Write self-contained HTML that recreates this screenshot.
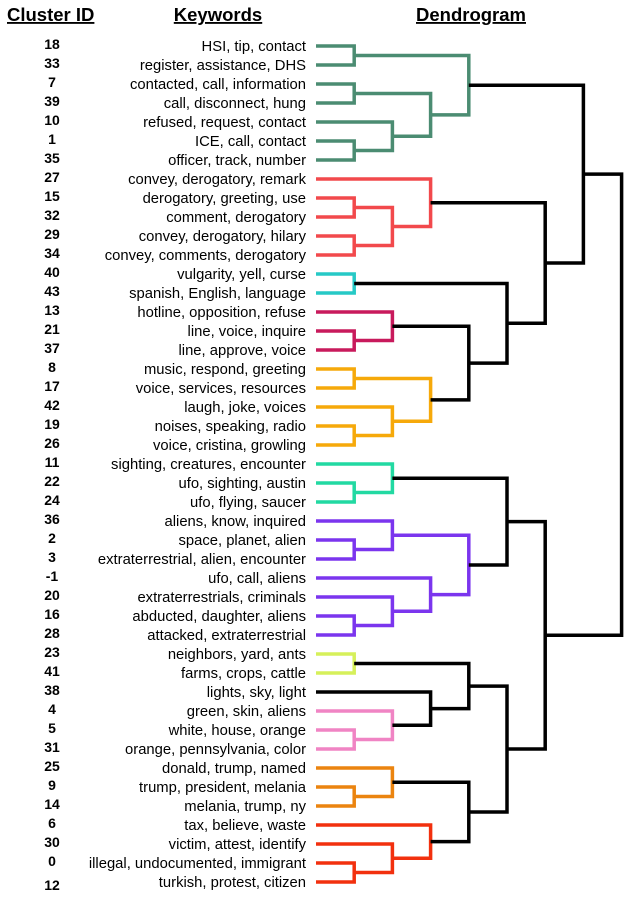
<!DOCTYPE html>
<html><head><meta charset="utf-8">
<style>
html,body{margin:0;padding:0;background:#fff;}
body{width:634px;height:900px;overflow:hidden;position:relative;font-family:"Liberation Sans",Arial,sans-serif;}
svg{position:absolute;left:0;top:0;}
.hdr{font-weight:bold;font-size:18.5px;text-decoration:underline;}
.id{font-weight:bold;font-size:14px;}
.kw{font-size:14.8px;}
</style></head>
<body>
<svg id="chart" width="634" height="900">
<text class="hdr" x="7" y="21">Cluster ID</text>
<text class="hdr" x="218" y="21" text-anchor="middle">Keywords</text>
<text class="hdr" x="471" y="21" text-anchor="middle">Dendrogram</text>
<g id="labels"></g>
<g id="links"></g>
</svg>
<script>
const clusterIds=["18","33","7","39","10","1","35","27","15","32","29","34","40","43","13","21","37","8","17","42","19","26","11","22","24","36","2","3","-1","20","16","28","23","41","38","4","5","31","25","9","14","6","30","0","12"];
const keywords=["HSI, tip, contact","register, assistance, DHS","contacted, call, information","call, disconnect, hung","refused, request, contact","ICE, call, contact","officer, track, number","convey, derogatory, remark","derogatory, greeting, use","comment, derogatory","convey, derogatory, hilary","convey, comments, derogatory","vulgarity, yell, curse","spanish, English, language","hotline, opposition, refuse","line, voice, inquire","line, approve, voice","music, respond, greeting","voice, services, resources","laugh, joke, voices","noises, speaking, radio","voice, cristina, growling","sighting, creatures, encounter","ufo, sighting, austin","ufo, flying, saucer","aliens, know, inquired","space, planet, alien","extraterrestrial, alien, encounter","ufo, call, aliens","extraterrestrials, criminals","abducted, daughter, aliens","attacked, extraterrestrial","neighbors, yard, ants","farms, crops, cattle","lights, sky, light","green, skin, aliens","white, house, orange","orange, pennsylvania, color","donald, trump, named","trump, president, melania","melania, trump, ny","tax, believe, waste","victim, attest, identify","illegal, undocumented, immigrant","turkish, protest, citizen"];
// merges: left node, right node, height level, colour key
const mergeLeft =[0,2,5,4,46,45,8,10,51,7,12,15,14,17,20,19,58,57,55,54,50,23,22,26,25,30,29,28,69,67,32,36,35,34,75,39,38,43,42,41,81,79,74,65];
const mergeRight=[1,3,6,47,48,49,9,11,52,53,13,16,56,18,21,59,60,61,62,63,64,24,66,27,68,31,70,71,72,73,33,37,76,77,78,40,80,44,82,83,84,85,86,87];
const mergeHeight=[1,1,1,2,3,4,1,1,2,3,1,1,2,1,1,2,3,4,5,6,7,1,2,1,2,1,2,3,4,5,1,1,2,3,4,1,2,1,2,3,4,5,6,8];
const mergeColor=["T","T","T","T","T","T","R","R","R","R","C","M","M","O","O","O","O","K","K","K","K","G","G","P","P","P","P","P","P","K","Y","N","N","K","K","O2","O2","R2","R2","R2","K","K","K","K"];
const palette={T:"#4b8c72",R:"#f2494c",C:"#26c9c6",M:"#c81a5c",O:"#f6a90a",K:"#000",G:"#22d9a2",P:"#7b35ee",Y:"#d6f05a",N:"#f084c4",O2:"#eb840f",R2:"#f2300e"};
const NS="http://www.w3.org/2000/svg";
const y0=46, dy=19.0, xLeaf=316, dx=38.2;
const yScale=i=>y0+i*dy;
const xScale=h=>xLeaf+h*dx;
const labels=document.getElementById('labels');
clusterIds.forEach((id,i)=>{
  const t=document.createElementNS(NS,'text');
  
  
  t.setAttribute('class','id');t.setAttribute('x',52);t.setAttribute('y',yScale(i)+(i===44?8:3));t.setAttribute('text-anchor','middle');
  t.textContent=id;labels.appendChild(t);
  const k=document.createElementNS(NS,'text');
  
  
  k.setAttribute('class','kw');k.setAttribute('x',306);k.setAttribute('y',yScale(i)+5);k.setAttribute('text-anchor','end');
  k.textContent=keywords[i];
  labels.appendChild(k);
});
const nx=[],ny=[];
clusterIds.forEach((_,i)=>{nx[i]=xLeaf;ny[i]=yScale(i);});
const links=document.getElementById('links');
mergeLeft.forEach((a,m)=>{
  const b=mergeRight[m],xh=xScale(mergeHeight[m]);
  const p=document.createElementNS(NS,'path');
  
  
  p.setAttribute('d',`M${nx[a]},${ny[a]}H${xh}V${ny[b]}H${nx[b]}`);
  p.setAttribute('fill','none');p.setAttribute('stroke',palette[mergeColor[m]]);p.setAttribute('stroke-width','3.5');
  links.appendChild(p);
  const id=clusterIds.length+m;nx[id]=xh;ny[id]=(ny[a]+ny[b])/2;
});
</script>
</body></html>
